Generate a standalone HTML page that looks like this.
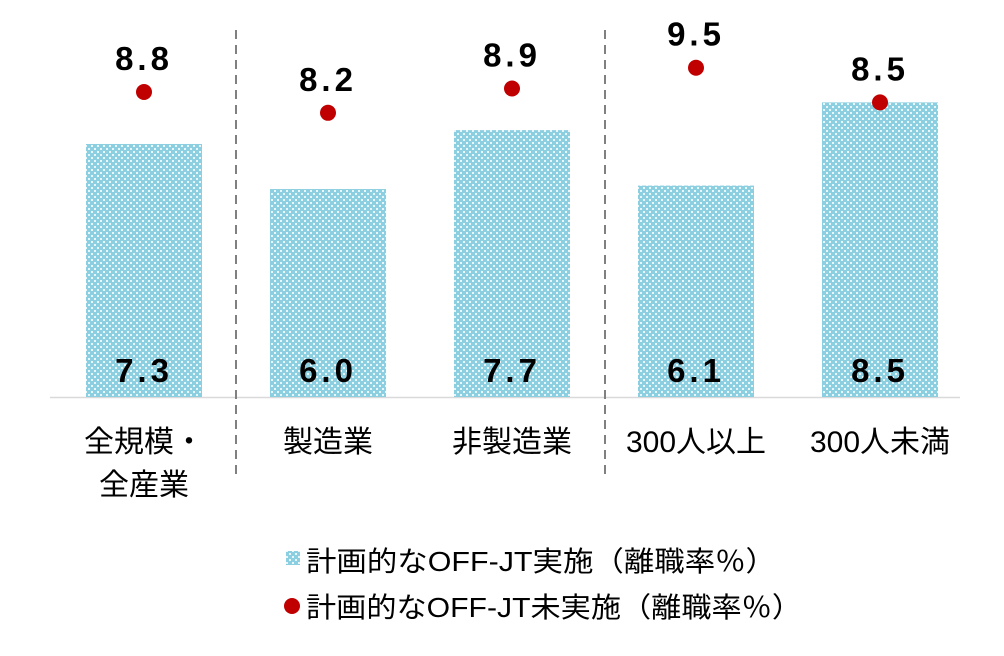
<!DOCTYPE html>
<html><head><meta charset="utf-8"><style>
body{margin:0;background:#fff}
text{font-family:"Liberation Sans","Noto Sans CJK JP",sans-serif}
</style></head><body>
<svg width="1004" height="651" viewBox="0 0 1004 651">
<defs><pattern id="dots" width="6" height="6" patternUnits="userSpaceOnUse">
<rect width="6" height="6" fill="#8ccfe0"/><rect x="1" y="1" width="2" height="2" fill="#e8f6fa"/><rect x="4" y="4" width="2" height="2" fill="#e8f6fa"/></pattern></defs>
<line x1="50" y1="397.5" x2="960" y2="397.5" stroke="#d9d9d9" stroke-width="1.5"/>
<line x1="236" y1="30" x2="236" y2="478" stroke="#808080" stroke-width="2" stroke-dasharray="9,6"/>
<line x1="605" y1="30" x2="605" y2="478" stroke="#808080" stroke-width="2" stroke-dasharray="9,6"/>
<g id="marks"></g>
<g>
<rect x="286" y="551" width="14" height="14" fill="url(#dots)"/>
<text x="306" y="571" font-size="28" textLength="470" lengthAdjust="spacingAndGlyphs">計画的なOFF-JT実施（離職率％）</text>
<circle cx="292" cy="606" r="8" fill="#c00000"/>
<text x="306" y="617" font-size="28" textLength="496" lengthAdjust="spacingAndGlyphs">計画的なOFF-JT未実施（離職率％）</text>
</g>
</svg>
<script>
const categories=[["全規模・","全産業"],["製造業"],["非製造業"],["300人以上"],["300人未満"]];
const barValues=[7.3,6.0,7.7,6.1,8.5];
const dotValues=[8.8,8.2,8.9,9.5,8.5];
const base=397,scale=34.66,x0=144,step=184,bw=116;
const y=v=>base-v*scale, x=i=>x0+i*step;
const g=document.getElementById('marks'),NS='http://www.w3.org/2000/svg';
function mk(t,a,txt){const e=document.createElementNS(NS,t);for(const k in a)e.setAttribute(k,a[k]);if(txt)e.textContent=txt;g.appendChild(e);return e;}
categories.forEach((c,i)=>{
 let e=mk('rect',{x:x(i)-bw/2,y:y(barValues[i]),width:bw,height:barValues[i]*scale,fill:'url(#dots)'});
 
 
 e=mk('text',{x:x(i),y:382,'font-size':33,'font-weight':'bold','text-anchor':'middle','letter-spacing':'4'},barValues[i].toFixed(1));
 
 
 e=mk('circle',{cx:x(i),cy:y(dotValues[i]),r:8,fill:'#c00000'});
 
 
 e=mk('text',{x:x(i),y:y(dotValues[i])-22,'font-size':33,'font-weight':'bold','text-anchor':'middle','letter-spacing':'4'},dotValues[i].toFixed(1));
 
 
 c.forEach((l,j)=>{
  e=mk('text',{x:x(i),y:452+j*43,'font-size':30,'text-anchor':'middle'},l);
  
  
 });
});
</script>
</body></html>
